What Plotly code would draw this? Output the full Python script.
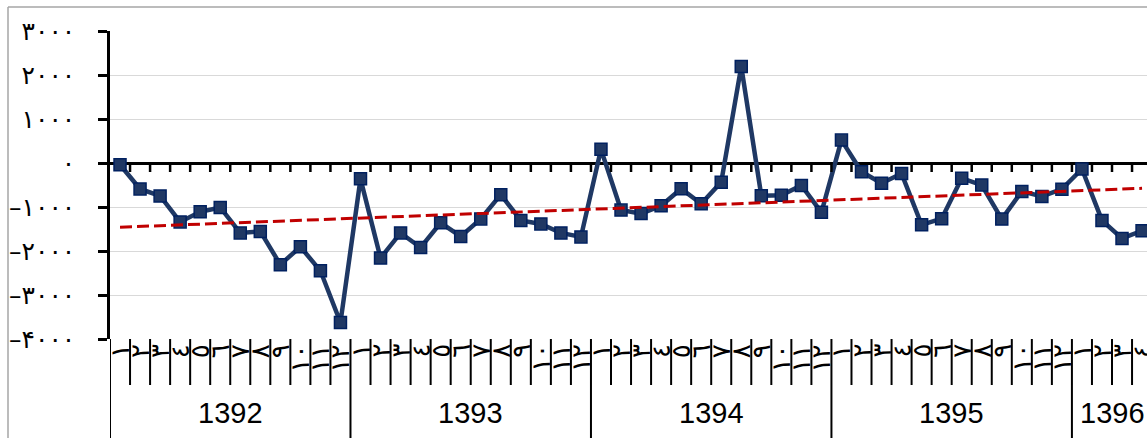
import numpy as np
import plotly.graph_objects as go

# ---------------- data ----------------
years = ["1392", "1393", "1394", "1395", "1396"]
month_labels = ["١", "٢", "٣", "٤", "٥", "٦", "٧", "٨", "٩", "١٠", "١١", "١٢"]

values_1392 = [-40, -590, -750, -1340, -1110, -1010, -1590, -1555, -2310, -1905, -2450, -3625]
values_1393 = [-360, -2160, -1590, -1920, -1360, -1670, -1270, -720, -1305, -1385, -1590, -1680]
values_1394 = [310, -1070, -1150, -970, -585, -925, -435, 2195, -742, -735, -510, -1120]
values_1395 = [520, -200, -460, -240, -1405, -1265, -345, -500, -1275, -645, -760, -595]
values_1396 = [-135, -1305, -1715, -1540]

y_ticks = [-4000, -3000, -2000, -1000, 0, 1000, 2000, 3000]

# ---------------- build ----------------
series = [values_1392, values_1393, values_1394, values_1395, values_1396]
vals = []
month_idx = []
for yr, s in zip(years, series):
    for m, v in enumerate(s):
        vals.append(v)
        month_idx.append(m)
n = len(vals)
xs = np.arange(n)

coef = np.polyfit(xs, np.array(vals, dtype=float), 1)
trend = np.polyval(coef, xs)

FA = str.maketrans("0123456789", "۰۱۲۳۴۵۶۷۸۹")


def fa(v):
    s = str(abs(int(v))).translate(FA)
    return ("–" + s) if v < 0 else s


W, H = 1147, 438
ML, MT, MB = 110, 31, 99
PH = H - MT - MB
PW = W - ML


def py(px):  # pixel y -> paper y
    return (H - MB - px) / PH


def pxx(px):  # pixel x -> paper x
    return (px - ML) / PW


NAVY = "#1F3864"

fig = go.Figure()
fig.add_trace(go.Scatter(
    x=xs, y=vals, mode="lines+markers",
    line=dict(color=NAVY, width=4.5),
    marker=dict(symbol="square", size=12, color="#203864",
                line=dict(color="#002060", width=1.5)),
    hoverinfo="y", showlegend=False,
))
fig.add_trace(go.Scatter(
    x=xs, y=trend, mode="lines",
    line=dict(color="#C00000", width=3, dash="12px,5px"),
    hoverinfo="skip", showlegend=False,
))

shapes = []
annotations = []

year_starts = []
pos = 0
for s in series:
    year_starts.append(pos)
    pos += len(s)
for k in range(n + 1):
    b = k - 0.5
    if 0 < k < n:
        shapes.append(dict(type="line", xref="x", yref="y", ysizemode="pixel",
                           yanchor=0, x0=b, x1=b, y0=0, y1=-9,
                           line=dict(color="black", width=2.5)))
    if k in year_starts:
        shapes.append(dict(type="line", xref="x", yref="paper", x0=b, x1=b,
                           y0=py(339), y1=py(H + 2), line=dict(color="black", width=2)))
    elif k < n:
        shapes.append(dict(type="line", xref="x", yref="paper", x0=b, x1=b,
                           y0=py(339), y1=py(385), line=dict(color="black", width=2)))

# month labels
for i in range(n):
    annotations.append(dict(x=i, y=py(342), xref="x", yref="paper",
                            text=month_labels[month_idx[i]], showarrow=False,
                            textangle=-90, xanchor="center", yanchor="top",
                            font=dict(family="DejaVu Sans", size=26, color="black")))
# year labels
for yr, st, s in zip(years, year_starts, series):
    annotations.append(dict(x=st - 0.5 + len(s) / 2, y=py(413), xref="x", yref="paper",
                            text=yr, showarrow=False, xanchor="center", yanchor="middle",
                            font=dict(family="Liberation Sans", size=29, color="black")))

# outer chart frame
shapes.append(dict(type="line", xref="paper", yref="paper", x0=pxx(8), x1=pxx(8),
                   y0=py(7), y1=py(H + 2), line=dict(color="#A6A6A6", width=1.5)))
shapes.append(dict(type="line", xref="paper", yref="paper", x0=pxx(8), x1=pxx(W + 2),
                   y0=py(7), y1=py(7), line=dict(color="#A6A6A6", width=1.5)))

fig.update_layout(
    width=W, height=H,
    margin=dict(l=ML, r=0, t=MT, b=MB, pad=0, autoexpand=False),
    paper_bgcolor="white", plot_bgcolor="white",
    shapes=shapes, annotations=annotations,
    xaxis=dict(range=[-0.5, -0.5 + PW / 20.04], showticklabels=False, showgrid=False,
               zeroline=False, showline=False, ticks="", automargin=False),
    yaxis=dict(range=[-4000, 3000], tickvals=y_ticks, ticktext=[fa(v) for v in y_ticks],
               automargin=False,
               showgrid=True, gridcolor="#D9D9D9", gridwidth=1,
               zeroline=True, zerolinecolor="black", zerolinewidth=2.5,
               showline=True, linecolor="black", linewidth=2.5,
               ticks="outside", ticklen=9, tickwidth=2.5, tickcolor="black",
               ticklabelstandoff=18,
               tickfont=dict(family="DejaVu Sans", size=25, color="black")),
)

fig.write_html("out.html", config={"displayModeBar": False},
               post_script="document.body.style.margin='0';")
